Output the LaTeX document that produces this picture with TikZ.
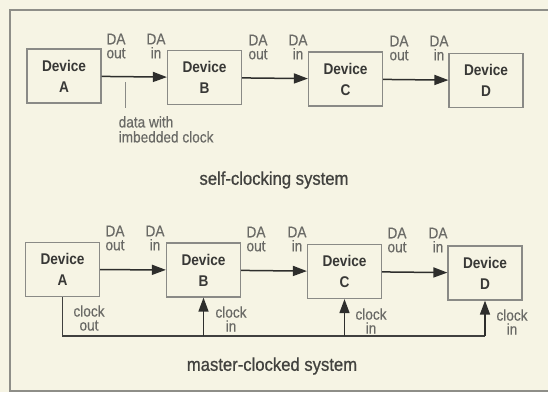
\documentclass[tikz,border=0pt]{standalone}
\usepackage{fontspec}
\setmainfont{Liberation Sans}
\newfontfamily\condsans[FakeStretch=0.88]{Liberation Sans}
\newfontfamily\condsanslab[FakeStretch=0.88,FakeBold=0.4]{Liberation Sans}
\newfontfamily\condsanstitle[FakeStretch=0.9,FakeBold=0.8]{Liberation Sans}
\usetikzlibrary{arrows.meta}
\definecolor{bgc}{HTML}{F6F4E4}
\definecolor{framec}{HTML}{8E8E88}
\definecolor{boxc}{HTML}{8A8A86}
\definecolor{labc}{HTML}{6A6A66}
\definecolor{devc}{HTML}{383836}
\definecolor{arrc}{HTML}{2E2E2C}
\tikzset{
  dev/.style={draw=boxc, line width=1.2pt, minimum width=74pt, minimum height=54pt, inner sep=0pt,
    align=center, text=devc, font=\condsans\fontsize{15.5}{21}\bfseries\selectfont},
  lab/.style={align=center, text=labc, inner sep=0pt, font=\condsanslab\fontsize{15.5}{14}\selectfont},
  note/.style={align=left, text=labc, inner sep=0pt, font=\condsanslab\fontsize{15.5}{15}\selectfont},
  title/.style={text=devc!80!labc, inner sep=0pt, font=\condsanstitle\fontsize{18.5}{20}\selectfont},
  arr/.style={draw=arrc, line width=1.5pt, -{Triangle[length=14pt,width=10pt]}},
  wire/.style={draw=arrc!80!boxc, line width=1.5pt},
}
\begin{document}
\begin{tikzpicture}[x=1pt,y=-1pt]
\useasboundingbox (0,0) rectangle (548,392);
\fill[bgc] (0,0) rectangle (548,392);
\begin{scope}
\clip (0,0) rectangle (548,392);
\draw[framec, line width=1.2pt] (10,10) rectangle (560,391);
\end{scope}

% top row
\node[dev] (tA) at (64,76)    {Device\\A};
\node[dev] (tB) at (204.5,77.5) {Device\\B};
\node[dev] (tC) at (345.5,79) {Device\\C};
\node[dev] (tD) at (486,80.5) {Device\\D};
\draw[arr] (tA) -- (tB);
\draw[arr] (tB) -- (tC);
\draw[arr] (tC) -- (tD);

\node[lab] (tAo) at (116,46) {DA\\out};
\node[lab] (tBi) at (156,46) {DA\\in};
\node[lab] (tBo) at (258,47) {DA\\out};
\node[lab] (tCi) at (298,47) {DA\\in};
\node[lab] (tCo) at (399,48) {DA\\out};
\node[lab] (tDi) at (439,48) {DA\\in};

\coordinate (tk1) at (125,82);
\coordinate (tk2) at (125,108);
\draw[boxc, line width=0.8pt] (tk1) -- (tk2);
\node[note, anchor=north west] (dnote) at (118.5,116) {data with\\imbedded clock};
\node[title] (t1) at (274,180) {self-clocking system};

% bottom row
\node[dev] (bA) at (62.5,269.5) {Device\\A};
\node[dev] (bB) at (203.5,270)  {Device\\B};
\node[dev] (bC) at (344.5,271.5){Device\\C};
\node[dev] (bD) at (485,273)    {Device\\D};
\draw[arr] (bA) -- (bB);
\draw[arr] (bB) -- (bC);
\draw[arr] (bC) -- (bD);

\node[lab] (bAo) at (115,238) {DA\\out};
\node[lab] (bBi) at (155,238) {DA\\in};
\node[lab] (bBo) at (256,239) {DA\\out};
\node[lab] (bCi) at (297,239) {DA\\in};
\node[lab] (bCo) at (397,240) {DA\\out};
\node[lab] (bDi) at (438,240) {DA\\in};

\coordinate (clk) at (484,336);
\draw[wire] (bA.south) |- (bD.south |- clk);
\draw[arr] (bB.south |- clk) -- (bB.south);
\draw[arr] (bC.south |- clk) -- (bC.south);
\draw[arr] (bD.south |- clk) -- (bD.south);

\node[lab] (cAo) at (89,318) {clock\\out};
\node[lab] (cBi) at (231,319) {clock\\in};
\node[lab] (cCi) at (371,321) {clock\\in};
\node[lab] (cDi) at (512,322) {clock\\in};

\node[title] (t2) at (272,366) {master-clocked system};
\end{tikzpicture}
\end{document}
